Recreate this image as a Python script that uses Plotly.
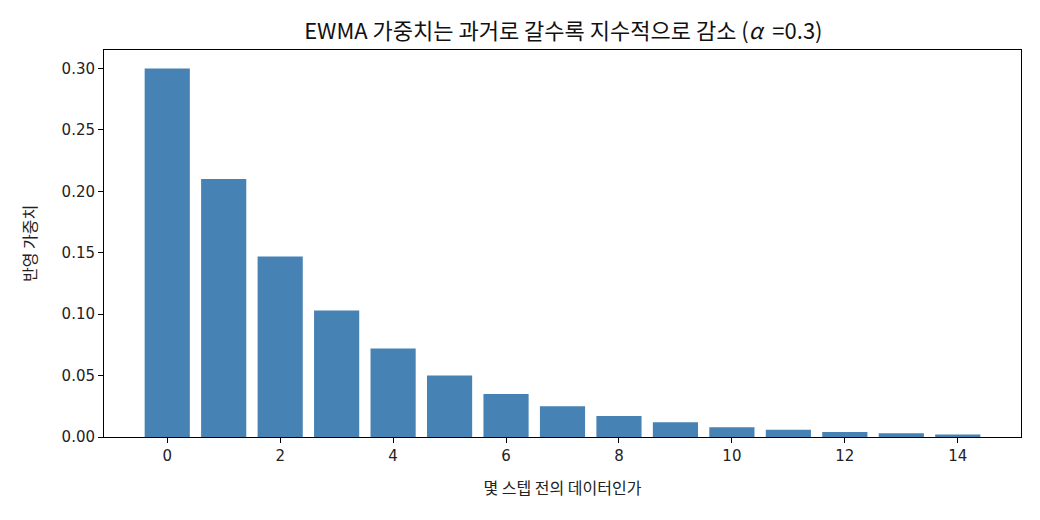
import plotly.graph_objects as go

steps = list(range(15))
weights = [0.300, 0.210, 0.147, 0.103, 0.072, 0.050, 0.035, 0.025,
           0.017, 0.012, 0.008, 0.006, 0.004, 0.003, 0.002]

title_text = "EWMA 가중치는 과거로 갈수록 지수적으로 감소 (<i>α</i>&nbsp; =0.3)"
x_title = "몇 스텝 전의 데이터인가"
y_title = "반영 가중치"

font_family = "DejaVu Sans, Noto Sans CJK KR"

fig = go.Figure(
    data=[
        go.Bar(
            x=steps,
            y=weights,
            width=0.8,
            marker=dict(color="#4682B4", line=dict(width=0)),
        )
    ]
)

axis_style = dict(
    showline=True, linecolor="black", linewidth=1, mirror=True,
    ticks="outside", ticklen=5, tickcolor="black", tickwidth=1,
    showgrid=False, zeroline=False,
    tickfont=dict(size=15, color="#222222", family=font_family),
)

# page body adds an 8px offset, margins compensate for it
fig.update_layout(
    width=1040, height=520,
    margin=dict(l=96, r=27, t=42, b=91),
    plot_bgcolor="white", paper_bgcolor="white",
    showlegend=False,
    title=dict(text=title_text, x=0.534, xanchor="center", y=0.956, yanchor="middle",
               font=dict(size=22, color="#111111", family="Noto Sans CJK KR")),
    font=dict(family=font_family),
)

fig.update_xaxes(axis_style, range=[-1.12, 15.12], tickvals=list(range(0, 15, 2)),
                 title=dict(text=x_title, standoff=18,
                            font=dict(size=16, color="#222222", family="Noto Sans CJK KR")))
fig.update_yaxes(axis_style, range=[0, 0.315], tickvals=[0, 0.05, 0.10, 0.15, 0.20, 0.25, 0.30],
                 tickformat=".2f",
                 title=dict(text=y_title, standoff=20,
                            font=dict(size=16, color="#222222", family="Noto Sans CJK KR")))

fig.write_html("out.html")
